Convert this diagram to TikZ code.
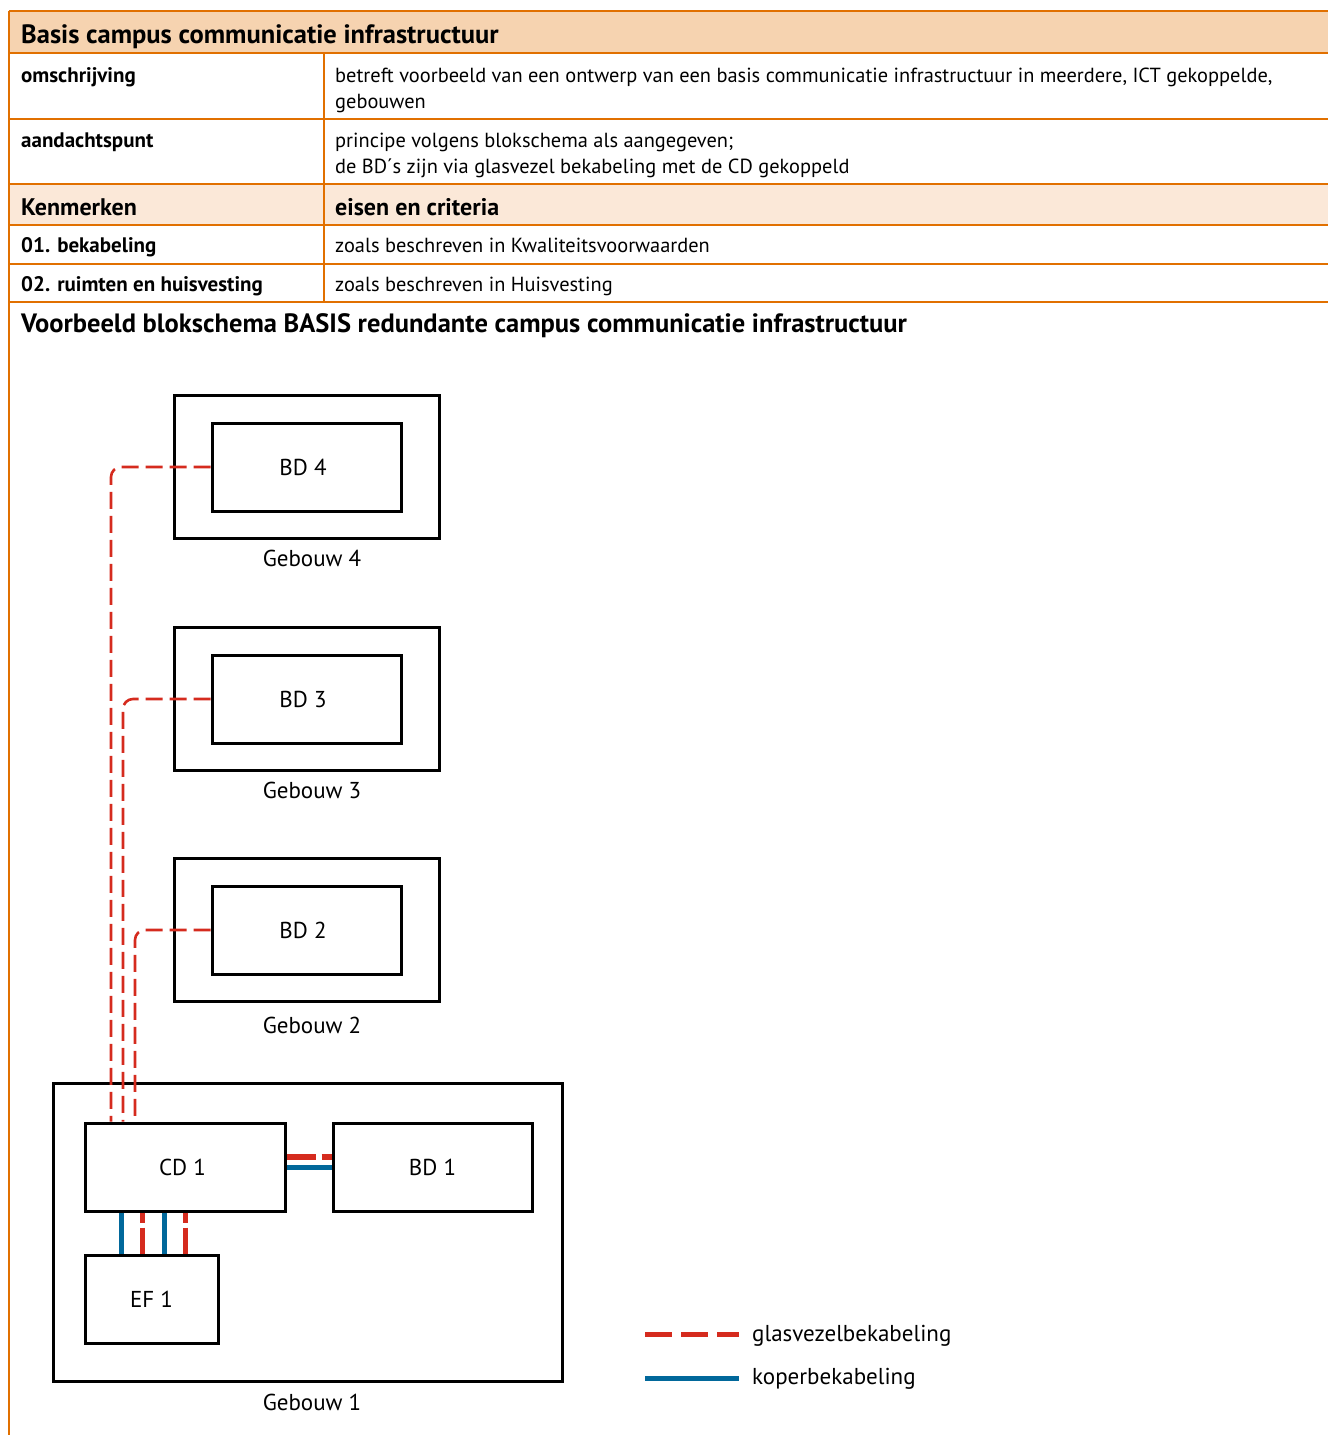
\documentclass[tikz,border=0pt]{standalone}
\usepackage{fontspec}
\setmainfont{PT Sans}
\definecolor{ro}{HTML}{E17000}
\definecolor{hdr}{HTML}{F6D3B0}
\definecolor{hdrl}{HTML}{FBE8D8}
\definecolor{rred}{HTML}{D52B1E}
\definecolor{rblue}{HTML}{01689B}
\tikzset{
  tline/.style={draw=ro, line width=2pt},
  ttext/.style={anchor=base west, inner sep=0pt, font=\fontsize{20.4}{22}\selectfont},
  tbold/.style={ttext, font=\fontsize{21}{23}\selectfont\bfseries},
  box/.style={draw=black, line width=3pt, inner sep=0pt, font=\fontsize{23}{25}\selectfont},
  lbl/.style={inner sep=0pt, font=\fontsize{23}{25}\selectfont},
  fiber/.style={draw=rred, line width=2.6pt, dash pattern=on 17 off 7, rounded corners=10pt},
  fibthick/.style={draw=rred, line width=5.5pt},
  copper/.style={draw=rblue, line width=5pt},
}
\begin{document}
\begin{tikzpicture}[x=1pt,y=-1pt]
\useasboundingbox (0,0) rectangle (1328,1435);
% table fills
\fill[hdr] (9,11) rectangle (1328,53);
\fill[hdrl] (9,184) rectangle (1328,225);
% table lines
\foreach \yy in {11,53,119,184,225,264,302} \draw[tline] (9,\yy) -- (1328,\yy);
\draw[tline] (9,11) -- (9,1435);
\draw[tline] (324,53) -- (324,302);
% table texts
\node[tbold, font=\fontsize{26.5}{28}\selectfont\bfseries] (title) at (21,43) {Basis campus communicatie infrastructuur};
\node[tbold] (k1) at (21,82) {omschrijving};
\node[ttext] (v1a) at (335,82) {betreft voorbeeld van een ontwerp van een basis communicatie infrastructuur in meerdere, ICT gekoppelde,};
\node[ttext] (v1b) at (335,108) {gebouwen};
\node[tbold] (k2) at (21,147) {aandachtspunt};
\node[ttext] (v2a) at (335,147) {principe volgens blokschema als aangegeven;};
\node[ttext] (v2b) at (335,173) {de BD´s zijn via glasvezel bekabeling met de CD gekoppeld};
\node[tbold, font=\fontsize{24}{26}\selectfont\bfseries] (k3) at (21,215) {Kenmerken};
\node[tbold, font=\fontsize{24}{26}\selectfont\bfseries] (v3) at (335,215) {eisen en criteria};
\node[tbold] (k4) at (21,252) {01. bekabeling};
\node[ttext] (v4) at (335,252) {zoals beschreven in Kwaliteitsvoorwaarden};
\node[tbold] (k5) at (21,291) {02. ruimten en huisvesting};
\node[ttext] (v5) at (335,291) {zoals beschreven in Huisvesting};
\node[tbold, font=\fontsize{26.5}{28}\selectfont\bfseries] (sub) at (21,332) {Voorbeeld blokschema BASIS redundante campus communicatie infrastructuur};
% buildings
\node[box, minimum width=265, minimum height=143] (G4) at (306.5,466.5) {};
\node[box, minimum width=189, minimum height=88] (BD4) at (306.5,467) {BD 4\hspace*{7pt}};
\node[lbl] (G4l) at (312,558) {Gebouw 4};
\node[box, minimum width=265, minimum height=143] (G3) at (306.5,698.5) {};
\node[box, minimum width=189, minimum height=88] (BD3) at (306.5,699) {BD 3\hspace*{7pt}};
\node[lbl] (G3l) at (312,790) {Gebouw 3};
\node[box, minimum width=265, minimum height=143] (G2) at (306.5,929.5) {};
\node[box, minimum width=189, minimum height=88] (BD2) at (306.5,930) {BD 2\hspace*{7pt}};
\node[lbl] (G2l) at (312,1025) {Gebouw 2};
\node[box, minimum width=509, minimum height=298] (G1) at (307.5,1232) {};
\node[lbl] (G1l) at (312,1402) {Gebouw 1};
\node[box, minimum width=200, minimum height=88] (CD1) at (185,1167) {CD 1\hspace*{5pt}};
\node[box, minimum width=199, minimum height=88] (BD1) at (432.5,1167) {BD 1};
\node[box, minimum width=133, minimum height=88] (EF1) at (151.5,1299) {EF 1};
% fiber links BD -> CD
\draw[fiber] (BD4.west) -- (111,0 |- BD4.west) -- (111,0 |- CD1.north);
\draw[fiber] (BD3.west) -- (123,0 |- BD3.west) -- (123,0 |- CD1.north);
\draw[fiber] (BD2.west) -- (135,0 |- BD2.west) -- (135,0 |- CD1.north);
% CD1 - BD1
\draw[fibthick, dash pattern=on 29 off 6 on 30] (CD1.east |- 0,1157) -- (BD1.west |- 0,1157);
\draw[copper] (CD1.east |- 0,1167.5) -- (BD1.west |- 0,1167.5);
% CD1 - EF1
\draw[copper] (121,0 |- CD1.south) -- (121,0 |- EF1.north);
\draw[fibthick, dash pattern=on 10 off 5 on 40] (142.5,0 |- CD1.south) -- (142.5,0 |- EF1.north);
\draw[copper] (164.5,0 |- CD1.south) -- (164.5,0 |- EF1.north);
\draw[fibthick, dash pattern=on 10 off 5 on 40] (185.5,0 |- CD1.south) -- (185.5,0 |- EF1.north);
% legend
\coordinate (L1a) at (645,1334);
\coordinate (L1b) at (739,1334);
\coordinate (L2a) at (645,1378);
\coordinate (L2b) at (739,1378);
\draw[fibthick, line width=5pt, dash pattern=on 27 off 9] (L1a) -- (L1b);
\draw[copper] (L2a) -- (L2b);
\node[lbl, anchor=west] (leg1) at (752,1336) {glasvezelbekabeling};
\node[lbl, anchor=west] (leg2) at (752,1379) {koperbekabeling};
\end{tikzpicture}
\end{document}
